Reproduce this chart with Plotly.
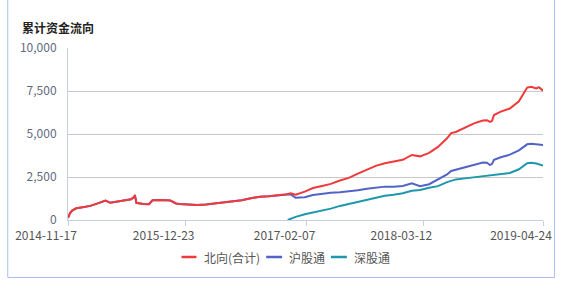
import plotly.graph_objects as go

# ---------------- data ----------------
dates_nb = ["2014-11-17", "2014-11-24", "2014-12-01", "2014-12-15", "2015-01-01", "2015-02-01",
            "2015-03-01", "2015-03-25", "2015-04-10", "2015-05-01", "2015-06-01", "2015-06-20",
            "2015-07-01", "2015-07-03", "2015-07-08", "2015-08-01", "2015-08-20", "2015-09-01",
            "2015-10-01", "2015-11-01", "2015-11-20", "2015-12-01", "2016-01-01", "2016-02-01",
            "2016-03-01", "2016-04-01", "2016-05-01", "2016-06-01", "2016-07-01", "2016-08-01",
            "2016-09-01", "2016-10-01", "2016-11-01", "2016-12-01", "2016-12-15", "2017-01-01",
            "2017-02-01", "2017-03-01", "2017-04-01", "2017-05-01", "2017-06-01", "2017-07-01",
            "2017-08-01", "2017-09-01", "2017-10-01", "2017-11-01", "2017-12-01", "2018-01-01",
            "2018-02-01", "2018-03-01", "2018-04-01", "2018-05-01", "2018-06-01", "2018-06-15",
            "2018-07-01", "2018-08-01", "2018-09-01", "2018-10-01", "2018-10-15", "2018-10-25",
            "2018-11-01", "2018-11-08", "2018-12-01", "2019-01-01", "2019-02-01", "2019-03-01",
            "2019-03-15", "2019-04-01", "2019-04-10", "2019-04-24"]
north_total = [120, 400, 550, 680, 730, 820,
               980, 1130, 1000, 1050, 1150, 1200,
               1350, 1450, 1000, 930, 920, 1150,
               1160, 1130, 960, 930, 900, 870,
               900, 960, 1000, 1060, 1150, 1270,
               1350, 1380, 1430, 1500, 1550, 1470,
               1650, 1860, 1980, 2100, 2300, 2450,
               2700, 2950, 3150, 3300, 3380, 3500,
               3780, 3700, 3900, 4250, 4750, 5050,
               5120, 5350, 5620, 5780, 5800, 5700,
               5750, 6100, 6300, 6480, 6900, 7700,
               7750, 7650, 7720, 7520]

dates_sh = dates_nb
sh_connect = [120, 400, 550, 680, 730, 820,
              980, 1130, 1000, 1050, 1150, 1200,
              1350, 1450, 1000, 930, 920, 1150,
              1160, 1130, 960, 930, 900, 870,
              900, 960, 1000, 1060, 1150, 1270,
              1350, 1380, 1430, 1500, 1490, 1290,
              1320, 1450, 1530, 1580, 1620, 1660,
              1730, 1820, 1900, 1940, 1930, 1980,
              2130, 1970, 2080, 2350, 2650, 2850,
              2920, 3060, 3200, 3340, 3330, 3200,
              3250, 3500, 3650, 3800, 4050, 4400,
              4430, 4400, 4420, 4360]

dates_sz = ["2016-12-05", "2017-01-01", "2017-02-01", "2017-03-01", "2017-04-01", "2017-05-01",
            "2017-06-01", "2017-07-01", "2017-08-01", "2017-09-01", "2017-10-01", "2017-11-01",
            "2017-12-01", "2018-01-01", "2018-02-01", "2018-03-01", "2018-04-01", "2018-05-01",
            "2018-06-01", "2018-07-01", "2018-08-01", "2018-09-01", "2018-10-01", "2018-11-01",
            "2018-12-01", "2019-01-01", "2019-02-01", "2019-03-01", "2019-03-15", "2019-04-01",
            "2019-04-24"]
sz_connect = [0, 180, 330, 430, 560, 660,
              820, 930, 1050, 1190, 1300, 1410,
              1470, 1560, 1700, 1750, 1880, 1970,
              2200, 2360, 2420, 2480, 2530, 2600,
              2660, 2730, 2950, 3300, 3330, 3280,
              3160]

x_ticks = ["2014-11-17", "2015-12-23", "2017-02-07", "2018-03-12", "2019-04-24"]
y_ticks = [0, 2500, 5000, 7500, 10000]
series_names = ["北向(合计)", "沪股通", "深股通"]
series_colors = ["#f0393b", "#5263c6", "#1e97ab"]
title_text = "累计资金流向"

# ---------------- layout helpers ----------------
W, H = 564, 293
L, R, T, B = 68, 545, 48, 220
FONT = "Noto Sans CJK SC"


def px(xp):
    return (xp - L) / (R - L)


def py(yp):
    return (B - yp) / (B - T)


fig = go.Figure()
# draw blue first, teal, then red on top
fig.add_trace(go.Scatter(x=dates_sh, y=sh_connect, mode="lines", name=series_names[1],
                         line=dict(color=series_colors[1], width=2)))
fig.add_trace(go.Scatter(x=dates_sz, y=sz_connect, mode="lines", name=series_names[2],
                         line=dict(color=series_colors[2], width=2)))
fig.add_trace(go.Scatter(x=dates_nb, y=north_total, mode="lines", name=series_names[0],
                         line=dict(color=series_colors[0], width=2)))

fig.update_layout(
    width=W, height=H, autosize=False,
    margin=dict(l=L, r=W - R, t=T, b=H - B, pad=0),
    paper_bgcolor="white", plot_bgcolor="white",
    showlegend=False,
    font=dict(family=FONT, size=12, color="#555555"),
)
fig.update_xaxes(
    type="date", range=[x_ticks[0], x_ticks[-1]],
    tickmode="array", tickvals=x_ticks, ticktext=x_ticks,
    showgrid=False, zeroline=False,
    showline=True, linecolor="#c4cfdf", linewidth=1,
    ticks="outside", ticklen=5, tickcolor="#c4cfdf",
    ticklabelshift=-22,
    tickfont=dict(family=FONT, size=12, color="#555555"),
)
fig.update_yaxes(
    range=[0, 10000], tickmode="array", tickvals=y_ticks, tickformat=",d",
    showgrid=True, gridcolor="#c8c8c8", gridwidth=1, zeroline=False,
    showline=True, linecolor="#c4cfdf", linewidth=1,
    ticks="", ticklabelstandoff=8,
    tickfont=dict(family=FONT, size=12, color="#5f6a80"),
)

# outer frame
fig.add_shape(type="rect", xref="paper", yref="paper",
              x0=px(7.5), x1=px(556.5), y0=py(277.5), y1=py(-5),
              line=dict(color="#a9c1ec", width=1), layer="below")

# title
fig.add_annotation(text="<b>" + title_text + "</b>", xref="paper", yref="paper",
                   x=px(20), y=py(27), xanchor="left", yanchor="middle", showarrow=False,
                   font=dict(family=FONT, size=12, color="#222222"))

# custom legend
legend_items = [(182, 197, 203), (267, 283, 288), (332, 348, 353)]
for (x0, x1, xt), name, col in zip(legend_items, series_names, series_colors):
    fig.add_shape(type="line", xref="paper", yref="paper",
                  x0=px(x0), x1=px(x1), y0=py(257), y1=py(257),
                  line=dict(color=col, width=2.5))
    fig.add_annotation(text=name, xref="paper", yref="paper",
                       x=px(xt), y=py(257.5), xanchor="left", yanchor="middle", showarrow=False,
                       font=dict(family=FONT, size=12, color="#555555"))

fig.write_html("out.html")
